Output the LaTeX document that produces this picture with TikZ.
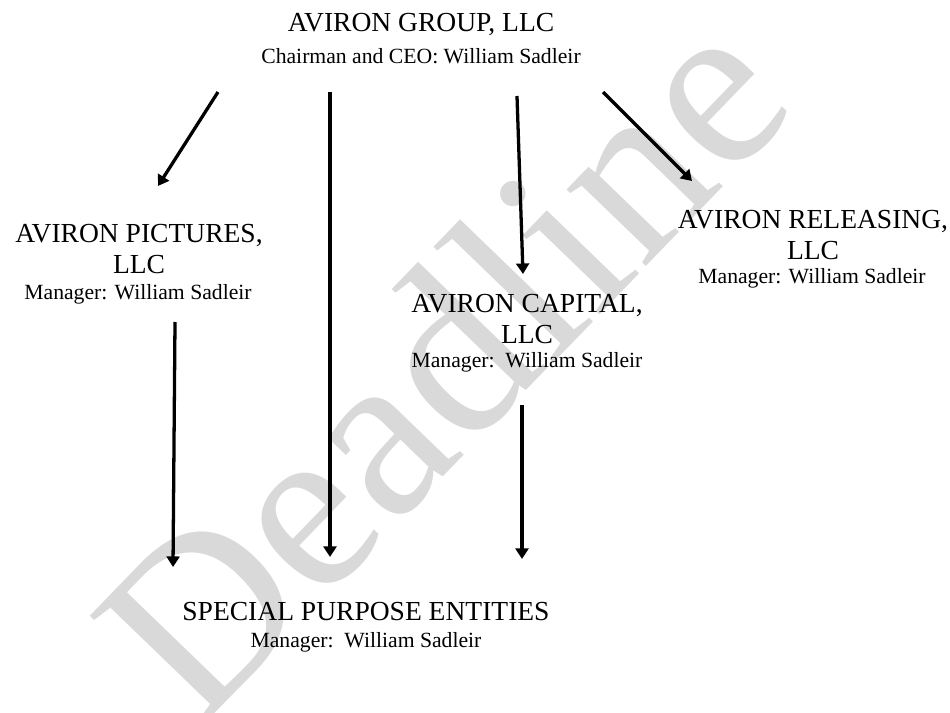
\documentclass[tikz,border=0pt]{standalone}
\usepackage{fontspec}
\setmainfont{Liberation Serif}
\usetikzlibrary{arrows.meta}

\begin{document}
\begin{tikzpicture}[x=0.03cm, y=-0.03cm,
  big/.style={font=\fontsize{23.5}{27}\selectfont, align=center, inner sep=0pt},
  mgr/.style={font=\fontsize{18.5}{21}\selectfont, inner sep=0pt},
  wm/.style={font=\fontsize{205}{205}\selectfont, text=black!15, inner sep=0pt},
  arr/.style={line width=2.8pt, -{Triangle[length=9pt, width=11pt]}}]
\useasboundingbox (0,0) rectangle (950,713);
% watermark behind everything
\node[wm, rotate=46] (wmark) at (440,362) {Deadline};
% entities
\node[big] (grp) at (421,25) {AVIRON GROUP, LLC};
\node[mgr] (grpm) at (421,56) {Chairman and CEO: William Sadleir};
\node[big] (pic) at (139,249) {AVIRON PICTURES,\\LLC};
\node[mgr] (picm) at (138,294) {Manager: William Sadleir};
\node[big] (cap) at (527,319) {AVIRON CAPITAL,\\LLC};
\node[mgr] (capm) at (527,362) {Manager:\ \ William Sadleir};
\node[big] (rel) at (813,235) {AVIRON RELEASING,\\LLC};
\node[mgr] (relm) at (812,278) {Manager: William Sadleir};
\node[big] (spe) at (366,612) {SPECIAL PURPOSE ENTITIES};
\node[mgr] (spem) at (366,642) {Manager:\ \ William Sadleir};
% arrow ends
\coordinate (g1) at (218,92);  \coordinate (p1) at (158,186);
\coordinate (g2) at (330,92);  \coordinate (s2) at (330,557);
\coordinate (g3) at (517,96);  \coordinate (c3) at (523,274);
\coordinate (g4) at (603,92);  \coordinate (r4) at (692,181);
\coordinate (p5) at (175,322); \coordinate (s5) at (173,567);
\coordinate (c6) at (522,405); \coordinate (s6) at (522,559);
\draw[arr] (g1) -- (p1);
\draw[arr] (g2) -- (s2);
\draw[arr] (g3) -- (c3);
\draw[arr] (g4) -- (r4);
\draw[arr] (p5) -- (s5);
\draw[arr] (c6) -- (s6);
\end{tikzpicture}
\end{document}
